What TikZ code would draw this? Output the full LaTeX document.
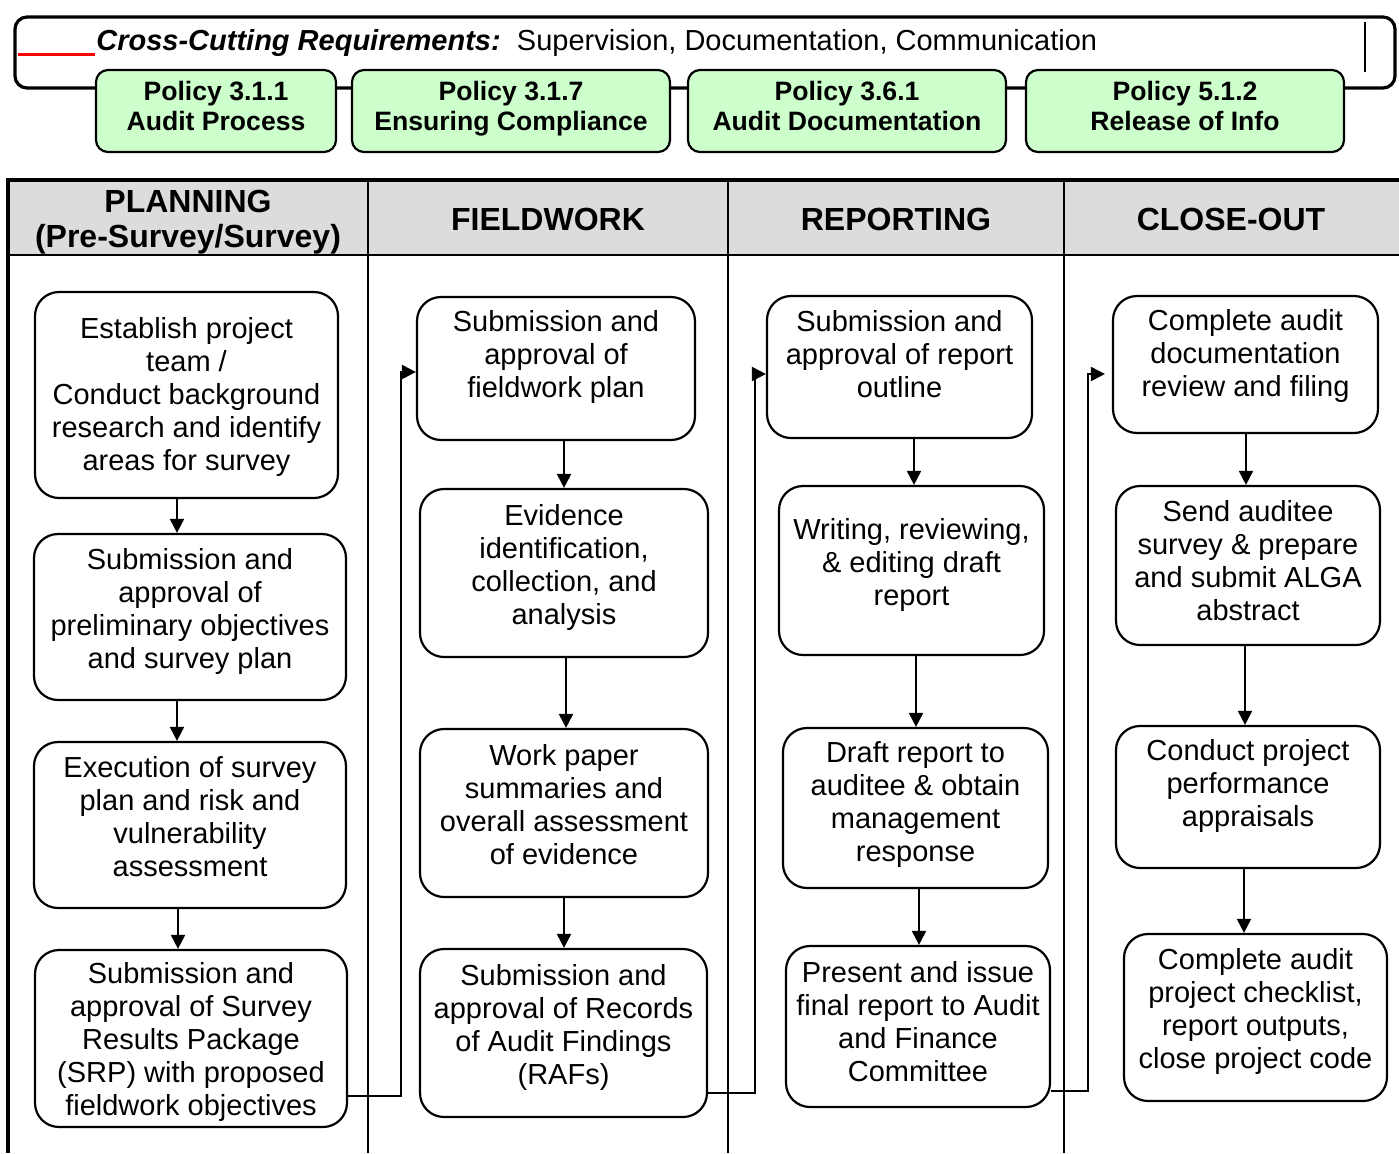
\documentclass[tikz,border=0pt]{standalone}
\usepackage{fontspec}
\setmainfont{Liberation Sans}
\usetikzlibrary{arrows.meta}
\definecolor{polgreen}{RGB}{204,255,204}
\definecolor{hgray}{RGB}{220,220,220}
\begin{document}
\begin{tikzpicture}[x=0.5pt,y=-0.5pt,
  box/.style={draw, line width=1.1pt, rounded corners=12pt, inner sep=0pt, align=center,
    font=\fontsize{14.5}{16.5}\selectfont},
  pol/.style={draw, line width=1.1pt, rounded corners=6pt, fill=polgreen, inner sep=0pt, align=center,
    minimum height=41pt, text depth=5pt, font=\fontsize{13.3}{15}\selectfont\bfseries},
  hdr/.style={align=center, inner sep=0pt, font=\fontsize{16}{17.5}\selectfont\bfseries},
  arr/.style={line width=1pt, -{Triangle[length=7pt,width=7pt]}},
  thinline/.style={line width=1pt},
  thickline/.style={line width=2pt}]
\useasboundingbox (0,0) rectangle (1399,1153);

% ---- cross-cutting banner ----
\node[draw, line width=1.6pt, rounded corners=6pt, inner sep=0pt,
  minimum width=690pt, minimum height=35.5pt] (banner) at (705,52.5) {};
\draw[red, line width=1.5pt] (18,54) -- (95,54);
\draw[line width=0.8pt] (1365,22) -- (1365,72);
\node[anchor=base west, inner sep=0pt, font=\fontsize{14.5}{16.5}\selectfont] (ccr) at (96,50)
  {\textbf{\textit{Cross-Cutting Requirements:}}\ \ Supervision, Documentation, Communication};

\node[pol, minimum width=120pt] (p1) at (216,111) {Policy 3.1.1\\Audit Process};
\node[pol, minimum width=159pt] (p2) at (511,111) {Policy 3.1.7\\Ensuring Compliance};
\node[pol, minimum width=159pt] (p3) at (847,111) {Policy 3.6.1\\Audit Documentation};
\node[pol, minimum width=159pt] (p4) at (1185,111) {Policy 5.1.2\\Release of Info};

% ---- swimlane table ----
\fill[hgray] (8,180) rectangle (1399,255);
\draw[thinline] (8,255) -- (1399,255);
\draw[thinline] (368,180) -- (368,1153);
\draw[thinline] (728,180) -- (728,1153);
\draw[thinline] (1064,180) -- (1064,1153);
\draw[thickline] (6,180) -- (1399,180);
\draw[thickline] (8,179) -- (8,1153);

\node[hdr] (h1) at (188,222) {PLANNING\\(Pre-Survey/Survey)};
\node[hdr] (h2) at (548,219) {FIELDWORK};
\node[hdr] (h3) at (896,219) {REPORTING};
\node[hdr] (h4) at (1231,219) {CLOSE-OUT};

% ---- planning column ----
\node[box, minimum width=151.5pt, minimum height=103pt, text depth=1.5pt] (b1) at (186.5,395)
  {Establish project\\team /\\Conduct background\\research and identify\\areas for survey};
\node[box, minimum width=156pt, minimum height=83pt, text depth=9pt] (b2) at (190,617)
  {Submission and\\approval of\\preliminary objectives\\and survey plan};
\node[box, minimum width=156pt, minimum height=83pt, text depth=9pt] (b3) at (190,825)
  {Execution of survey\\plan and risk and\\vulnerability\\assessment};
\node[box, minimum width=156pt, minimum height=88.5pt, text depth=0pt] (b4) at (191,1038.5)
  {Submission and\\approval of Survey\\Results Package\\(SRP) with proposed\\fieldwork objectives};

% ---- fieldwork column ----
\node[box, minimum width=139pt, minimum height=71.5pt, text depth=15pt] (c1) at (556,368.5)
  {Submission and\\approval of\\fieldwork plan};
\node[box, minimum width=144pt, minimum height=84pt, text depth=9pt] (c2) at (564,573)
  {Evidence\\identification,\\collection, and\\analysis};
\node[box, minimum width=144pt, minimum height=84pt, text depth=9pt] (c3) at (564,813)
  {Work paper\\summaries and\\overall assessment\\of evidence};
\node[box, minimum width=143.5pt, minimum height=84pt, text depth=9pt] (c4) at (563.5,1033)
  {Submission and\\approval of Records\\of Audit Findings\\(RAFs)};

% ---- reporting column ----
\node[box, minimum width=132.5pt, minimum height=71pt, text depth=13.5pt] (d1) at (899.5,367)
  {Submission and\\approval of report\\outline};
\node[box, minimum width=132.5pt, minimum height=84.5pt, text depth=8.5pt] (d2) at (911.5,570.5)
  {Writing, reviewing,\\\& editing draft\\report};
\node[box, minimum width=132.5pt, minimum height=80pt, text depth=6.5pt] (d3) at (915.5,808)
  {Draft report to\\auditee \& obtain\\management\\response};
\node[box, minimum width=132pt, minimum height=80.5pt, text depth=5.5pt] (d4) at (918,1026.5)
  {Present and issue\\final report to Audit\\and Finance\\Committee};

% ---- close-out column ----
\node[box, minimum width=132.5pt, minimum height=68.5pt, text depth=11.5pt] (e1) at (1245.5,364.5)
  {Complete audit\\documentation\\review and filing};
\node[box, minimum width=132pt, minimum height=79.5pt, text depth=5.5pt] (e2) at (1248,565.5)
  {Send auditee\\survey \& prepare\\and submit ALGA\\abstract};
\node[box, minimum width=132pt, minimum height=71pt, text depth=14pt] (e3) at (1248,797)
  {Conduct project\\performance\\appraisals};
\node[box, minimum width=131.5pt, minimum height=83.5pt, text depth=9pt] (e4) at (1255.5,1017.5)
  {Complete audit\\project checklist,\\report outputs,\\close project code};

% ---- vertical arrows ----
\draw[arr] (177,0 |- b1.south) -- (177,0 |- b2.north);
\draw[arr] (177,0 |- b2.south) -- (177,0 |- b3.north);
\draw[arr] (178,0 |- b3.south) -- (178,0 |- b4.north);
\draw[arr] (564,0 |- c1.south) -- (564,0 |- c2.north);
\draw[arr] (566,0 |- c2.south) -- (566,0 |- c3.north);
\draw[arr] (564,0 |- c3.south) -- (564,0 |- c4.north);
\draw[arr] (914,0 |- d1.south) -- (914,0 |- d2.north);
\draw[arr] (916,0 |- d2.south) -- (916,0 |- d3.north);
\draw[arr] (919,0 |- d3.south) -- (919,0 |- d4.north);
\draw[arr] (1246,0 |- e1.south) -- (1246,0 |- e2.north);
\draw[arr] (1245,0 |- e2.south) -- (1245,0 |- e3.north);
\draw[arr] (1244,0 |- e3.south) -- (1244,0 |- e4.north);

% ---- cross-column connectors ----
\coordinate (k1b) at (401,1096);
\coordinate (k1t) at (401,372);
\coordinate (k2b) at (755,1093);
\coordinate (k2t) at (755,374);
\coordinate (k3b) at (1088,1091);
\coordinate (k3t) at (1088,374);
\draw[arr] (b4.east |- k1b) -- (k1b) -- (k1t) -- (c1.west |- k1t);
\draw[arr] (c4.east |- k2b) -- (k2b) -- (k2t) -- (d1.west |- k2t);
\draw[arr, shorten >=3.5pt] (d4.east |- k3b) -- (k3b) -- (k3t) -- (e1.west |- k3t);
\end{tikzpicture}
\end{document}
